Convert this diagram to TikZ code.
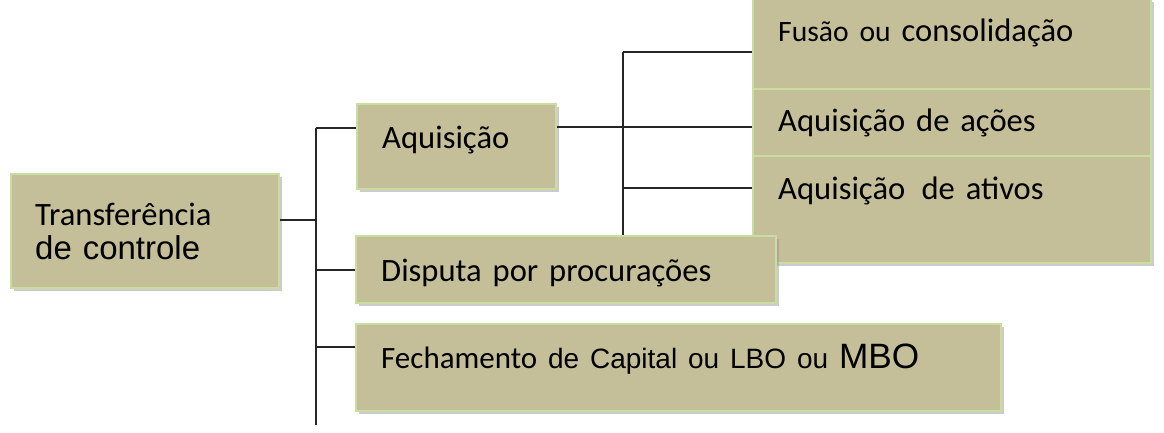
\documentclass[tikz,border=0pt]{standalone}
\usepackage{fontspec}
\setmainfont{Carlito}
\newfontfamily\arialfont{Liberation Sans}
\usetikzlibrary{positioning,shadows}
\definecolor{boxfill}{RGB}{197,191,153}
\definecolor{boxline}{RGB}{200,221,160}

\begin{document}
\begin{tikzpicture}[
  x=0.5pt, y=-0.5pt,
  box/.style={rectangle, draw=boxline, line width=1.2pt, fill=boxfill,
    anchor=north west, align=left, inner xsep=12.5pt, inner ysep=0pt,
    text height=12pt, font=\fontsize{16.3}{18}\selectfont,
    drop shadow={shadow xshift=1.5pt, shadow yshift=-1.5pt,
      fill=black!45, opacity=0.45}},
  link/.style={line width=1pt, black!85}
]
\useasboundingbox (0,0) rectangle (1164,433);

% Ramo da direita
\node[box, minimum width=199pt, minimum height=45pt, text width=174pt,
  text depth=15pt] (fusao) at (752,-2)
  {{\fontsize{14.8}{16}\selectfont Fusão ou} consolidação};
\node[box, minimum width=199pt, minimum height=33.5pt, text width=174pt,
  text depth=3.5pt] (acoes) at (752,88) {Aquisição de ações};
\node[box, minimum width=199pt, minimum height=53.5pt, text width=174pt,
  text depth=22.5pt] (ativos) at (752,155) {Aquisição\enspace de ativos};

% Tronco
\coordinate (trunktop) at (316,128);
\coordinate (trunkbot) at (316,425);
\coordinate (subtop) at (623,52);
\coordinate (subbot) at (623,235);
\draw[link] (trunktop) -- (trunkbot);
\draw[link] (subtop) -- (subbot);

% Nodes
\node[box, minimum width=134pt, minimum height=57pt, text width=110pt,
  inner xsep=12pt, text height=, text depth=] (transf) at (10,173)
  {Transferência\\[-1pt]{\arialfont\fontsize{16.5}{18}\selectfont de controle}};
\node[box, minimum width=99.5pt, minimum height=42.5pt, text width=74.5pt,
  text depth=10.5pt] (aquis) at (356,103) {Aquisição};
\node[box, minimum width=210pt, minimum height=33.5pt, text width=185pt,
  text depth=0.5pt] (disputa) at (355,235) {Disputa por procurações};
\node[box, minimum width=322.5pt, minimum height=43.5pt, text width=297.5pt,
  text depth=11.5pt] (fecha) at (355,323)
  {{\fontsize{15.5}{17}\selectfont Fechamento}
   {\arialfont\fontsize{14}{15}\selectfont de Capital ou LBO ou}
   {\arialfont\fontsize{17.6}{20}\selectfont MBO}};

% Ligações
\draw[link] (transf.east |- 0,220) -- (trunktop |- 0,220);
\draw[link] (trunktop) -- (trunktop -| aquis.west);
\draw[link] (trunktop |- disputa.west) -- (disputa.west);
\draw[link] (trunktop |- 0,347) -- (fecha.west |- 0,347);
\draw[link] (aquis.east |- 0,127) -- (subtop |- 0,127);
\draw[link] (subtop) -- (subtop -| fusao.west);
\draw[link] (subtop |- 0,127) -- (fusao.west |- 0,127);
\draw[link] (subtop |- 0,188) -- (ativos.west |- 0,188);
\end{tikzpicture}
\end{document}
